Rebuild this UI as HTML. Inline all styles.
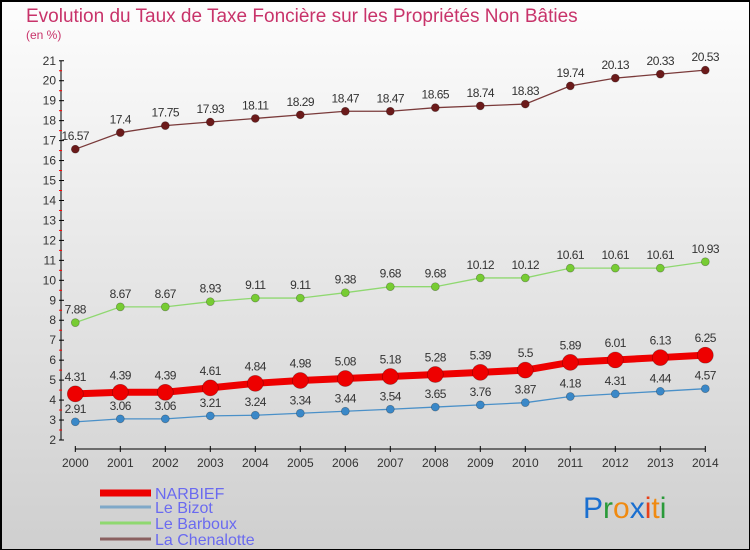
<!DOCTYPE html>
<html><head><meta charset="utf-8"><style>
body{margin:0}
#c{width:750px;height:550px;position:relative;overflow:hidden;box-sizing:border-box;border:2px solid #000;border-right:1px solid #000;border-bottom:1px solid #000;background:linear-gradient(#fdfdfd,#e6e6e6 50%,#cfcfcf);font-family:"Liberation Sans",sans-serif}
</style></head><body>
<div id="c">
<svg id="s" width="750" height="550" style="position:absolute;left:-2px;top:-2px"></svg>
</div>
<script>
const years=[2000,2001,2002,2003,2004,2005,2006,2007,2008,2009,2010,2011,2012,2013,2014];
const narbief=[4.31,4.39,4.39,4.61,4.84,4.98,5.08,5.18,5.28,5.39,5.5,5.89,6.01,6.13,6.25];
const bizot=[2.91,3.06,3.06,3.21,3.24,3.34,3.44,3.54,3.65,3.76,3.87,4.18,4.31,4.44,4.57];
const barboux=[7.88,8.67,8.67,8.93,9.11,9.11,9.38,9.68,9.68,10.12,10.12,10.61,10.61,10.61,10.93];
const chenalotte=[16.57,17.4,17.75,17.93,18.11,18.29,18.47,18.47,18.65,18.74,18.83,19.74,20.13,20.33,20.53];
const yTicks=[2,3,4,5,6,7,8,9,10,11,12,13,14,15,16,17,18,19,20,21];
const NS="http://www.w3.org/2000/svg",s=document.getElementById('s');
const X=i=>75.3+i*45, Y=v=>440-(v-2)*19.96;
function el(t,a,p){const e=document.createElementNS(NS,t);for(const k in a)e.setAttribute(k,a[k]);(p||s).appendChild(e);return e;}
let t=el('text',{x:26,y:22,fill:'#c8336a','font-size':19});t.textContent='Evolution du Taux de Taxe Foncière sur les Propriétés Non Bâties';


t=el('text',{x:26,y:39,fill:'#c8336a','font-size':12});t.textContent='(en %)';


const ax=el('g',{});


el('line',{x1:61,y1:Y(21),x2:61,y2:Y(2),stroke:'#000','stroke-width':1},ax);
yTicks.forEach(v=>{el('line',{x1:59,x2:64,y1:Y(v),y2:Y(v),stroke:'#000'},ax);
 if(v<21)el('line',{x1:59,x2:62,y1:Y(v+.5),y2:Y(v+.5),stroke:'#f00'},ax);
 const tt=el('text',{x:56,y:Y(v)+4,'text-anchor':'end','font-size':12,fill:'#333'},ax);tt.textContent=v;});
const xa=el('g',{});


el('line',{x1:X(0),x2:X(14),y1:449,y2:449,stroke:'#000'},xa);
years.forEach((y,i)=>{el('line',{x1:X(i),x2:X(i),y1:446,y2:452,stroke:'#000'},xa);
 const tt=el('text',{x:X(i),y:467,'text-anchor':'middle','font-size':12,fill:'#333'},xa);tt.textContent=y;});
function series(name,data,color,w,r,dot){
 const g=el('g',{});
 
 
 el('polyline',{points:data.map((v,i)=>X(i)+','+Y(v)).join(' '),fill:'none',stroke:color,'stroke-width':w},g);
 data.forEach((v,i)=>{const c=el('circle',{cx:X(i),cy:Y(v),r:r,fill:dot,stroke:'rgba(0,0,0,0.3)','stroke-width':.7},g);
  
  
  const tt=el('text',{x:X(i),y:Y(v)-r-5,'text-anchor':'middle','font-size':12,fill:'#333','letter-spacing':'-0.5'},g);tt.textContent=v;});
}
series('chenalotte',chenalotte,'#7a3a3a',1.3,4,'#6b1a1a');
series('barboux',barboux,'#8fd870',1.3,4,'#77cc33');
series('narbief',narbief,'#ee0000',7,8,'#ee0000');
series('bizot',bizot,'#4a90c8',1.3,4,'#3a88c8');
const lg=[['NARBIEF','#ee0000',7,493],['Le Bizot','#7fa8c8',3,507],['Le Barboux','#8fd870',3,523],['La Chenalotte','#8a6060',3,539]];
lg.forEach(([n,c,w,y])=>{const g=el('g',{});
 
 
 el('line',{x1:100,x2:151,y1:y,y2:y,stroke:c,'stroke-width':w},g);
 const tt=el('text',{x:155,y:y+6,'font-size':16,fill:'#6a6af0'},g);tt.textContent=n;});
const lo=el('text',{x:583,y:518,'font-size':30});


[['P','#1a6fd0'],['r','#2a9a3a'],['o','#f08a10'],['x','#1a6fd0'],['i','#e8401a'],['t','#f08a10'],['i','#2a9a3a']].forEach(([ch,c])=>{const sp=el('tspan',{fill:c},lo);sp.textContent=ch;});
</script>
</body></html>
